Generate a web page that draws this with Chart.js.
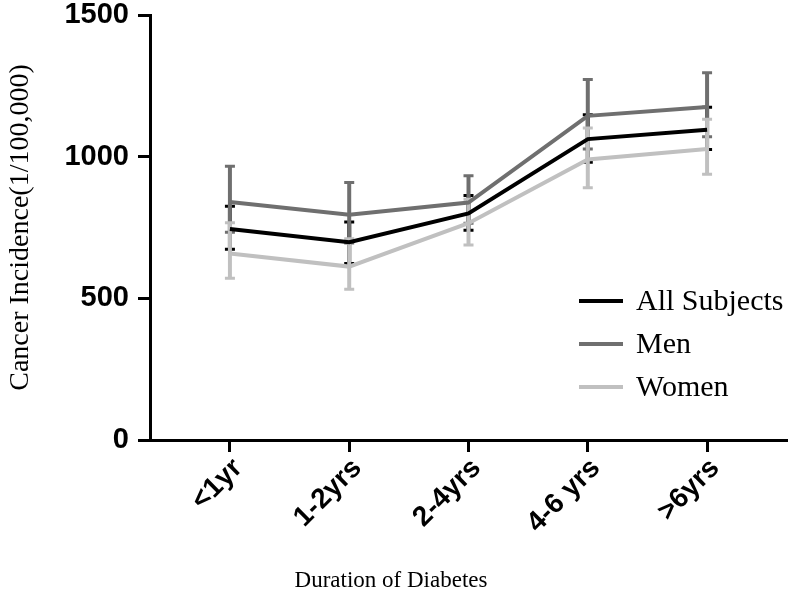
<!DOCTYPE html>
<html><head><meta charset="utf-8">
<script src="https://cdn.jsdelivr.net/npm/chart.js@4/dist/chart.umd.min.js"></script>
<style>html,body{margin:0;padding:0;background:#fff}#wrap{width:793px;height:596px;position:relative}</style>
</head><body><div id="wrap"><canvas id="c"></canvas></div>
<script>
const categories = ["<1yr", "1-2yrs", "2-4yrs", "4-6 yrs", ">6yrs"];
const allSubjects = [745, 698, 800, 1062, 1095];
const allLow      = [673, 623, 740, 980, 1025];
const allHigh     = [825, 769, 863, 1148, 1174];
const men         = [840, 795, 838, 1144, 1175];
const menLow      = [733, 695, 765, 1027, 1070];
const menHigh     = [966, 909, 933, 1272, 1296];
const women       = [658, 612, 765, 990, 1027];
const womenLow    = [571, 532, 688, 890, 938];
const womenHigh   = [767, 710, 850, 1101, 1132];
const yTicks = [0, 500, 1000, 1500];
const seriesNames = ["All Subjects", "Men", "Women"];
const xTitle = "Duration of Diabetes";
const yTitle = "Cancer Incidence(1/100,000)";

const colors = ["#000000", "#6f6f6f", "#c0c0c0"];
const seriesVals = [allSubjects, men, women];
const seriesLow = [allLow, menLow, womenLow];
const seriesHigh = [allHigh, menHigh, womenHigh];

const datasets = seriesNames.map((name, s) => ({
  label: name,
  data: seriesVals[s].map((v, i) => ({ x: i, y: v })),
  errLow: seriesLow[s],
  errHigh: seriesHigh[s],
  borderColor: colors[s],
  backgroundColor: colors[s],
  borderWidth: 4,
  pointRadius: 0,
  tension: 0,
  fill: false
}));

const errorBars = {
  id: 'errorBars',
  beforeDatasetsDraw(chart) {
    const ctx = chart.ctx, xs = chart.scales.x, ys = chart.scales.y;
    ctx.save();
    chart.data.datasets.forEach(ds => {
      ctx.strokeStyle = ds.borderColor;
      ds.data.forEach((p, i) => {
        const x = xs.getPixelForValue(p.x);
        const yl = ys.getPixelForValue(ds.errLow[i]);
        const yh = ys.getPixelForValue(ds.errHigh[i]);
        ctx.lineWidth = 4;
        ctx.beginPath(); ctx.moveTo(x, yl); ctx.lineTo(x, yh); ctx.stroke();
        ctx.lineWidth = 3;
        ctx.beginPath();
        ctx.moveTo(x - 5, yl); ctx.lineTo(x + 5, yl);
        ctx.moveTo(x - 5, yh); ctx.lineTo(x + 5, yh);
        ctx.stroke();
      });
    });
    ctx.restore();
  }
};

const extras = {
  id: 'extras',
  afterDraw(chart) {
    const ctx = chart.ctx;
    ctx.save();
    ctx.fillStyle = '#000';
    ctx.font = '23px "Liberation Serif"';
    ctx.textAlign = 'center';
    ctx.textBaseline = 'alphabetic';
    ctx.fillText(xTitle, 391, 587);
    ctx.textAlign = 'left';
    ctx.font = '30px "Liberation Serif"';
    chart.data.datasets.forEach((ds, i) => {
      const y = 301 + i * 43;
      ctx.strokeStyle = ds.borderColor;
      ctx.lineWidth = 4;
      ctx.beginPath(); ctx.moveTo(579, y); ctx.lineTo(623, y); ctx.stroke();
      ctx.fillText(ds.label, 636, y + 9);
    });
    ctx.restore();
  }
};

new Chart(document.getElementById('c'), {
  type: 'line',
  data: { datasets },
  plugins: [errorBars, extras],
  options: {
    responsive: true,
    maintainAspectRatio: false,
    animation: false,
    layout: { padding: { top: 15, right: 6, left: 0, bottom: 0 } },
    plugins: { legend: { display: false }, tooltip: { enabled: false } },
    scales: {
      x: {
        type: 'linear', min: -0.67, max: 4.67,
        afterBuildTicks: s => { s.ticks = categories.map((c, i) => ({ value: i })); },
        afterFit: s => { s.height = 156; s.paddingLeft = 0; s.paddingRight = 0; },
        border: { display: true, color: '#000', width: 3 },
        grid: { drawOnChartArea: false, drawTicks: true, tickLength: 12, tickWidth: 3, color: '#000' },
        ticks: {
          callback: v => categories[v],
          autoSkip: false, minRotation: 45, maxRotation: 45, padding: 0, labelOffset: 8,
          color: '#000', font: { family: 'Liberation Sans', weight: 'bold', size: 28 }
        }
      },
      y: {
        min: 0, max: 1500,
        afterBuildTicks: s => { s.ticks = yTicks.map(v => ({ value: v })); },
        afterFit: s => { s.width = 150; s.paddingTop = 0; s.paddingBottom = 0; },
        border: { display: true, color: '#000', width: 3 },
        grid: { drawOnChartArea: false, drawTicks: true, tickLength: 12, tickWidth: 3, color: '#000' },
        ticks: { callback: v => String(v), padding: 9, color: '#000',
                 font: { family: 'Liberation Sans', weight: 'bold', size: 29 } },
        title: { display: true, text: yTitle, color: '#000', padding: { top: 4, bottom: 0 },
                 font: { family: 'Liberation Serif', size: 28 } }
      }
    }
  }
});
</script></body></html>
